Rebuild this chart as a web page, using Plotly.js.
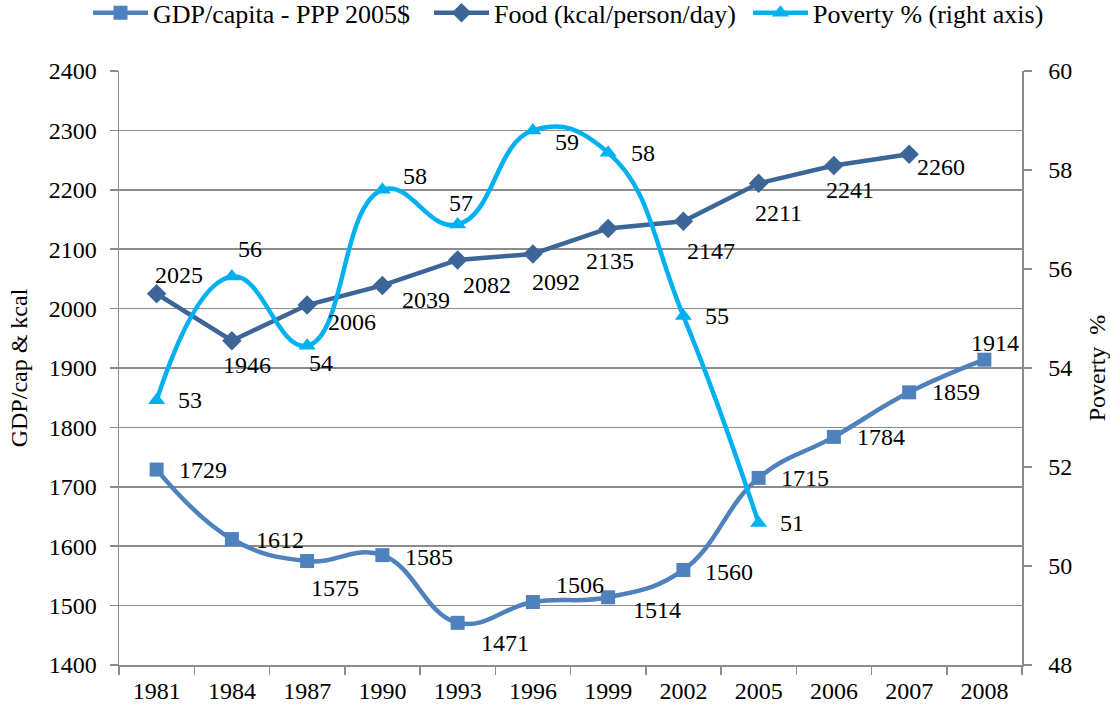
<!DOCTYPE html>
<html>
<head>
<meta charset="utf-8">
<script src="https://cdn.plot.ly/plotly-3.0.1.min.js"></script>
<style>html,body{margin:0;padding:0;background:#fff;}#chart{width:1110px;height:710px;}#err{position:absolute;left:300px;top:300px;color:red;font-size:14px;}</style>
</head>
<body>
<div id="chart"></div>
<div id="err"></div>
<script>
// ---- data ----
const years = ["1981","1984","1987","1990","1993","1996","1999","2002","2005","2006","2007","2008"];
const gdpYears = years;
const gdpValues = [1729, 1612, 1575, 1585, 1471, 1506, 1514, 1560, 1715, 1784, 1859, 1914];
const foodYears = years.slice(0, 11);
const foodValues = [2025, 1946, 2006, 2039, 2082, 2092, 2135, 2147, 2211, 2241, 2260];
const povertyYears = years.slice(0, 9);
const povertyValues = [53.35, 55.85, 54.45, 57.6, 56.9, 58.8, 58.35, 55.05, 50.87];
const leftTicks = [1400,1500,1600,1700,1800,1900,2000,2100,2200,2300,2400];
const rightTicks = [48,50,52,54,56,58,60];
const seriesNames = ["GDP/capita - PPP 2005$", "Food (kcal/person/day)", "Poverty % (right axis)"];

// ---- label offsets (style: pixel shifts, dx right / dy down) ----
const gdpLabelShift = [[46,0],[48,1],[28,27],[47,2],[47,20],[47,-17],[49,13],[46,2],[46,0],[47,0],[47,0],[11,-17]];
const foodLabelShift = [[22,-19],[15,24],[45,17],[44,15],[29,25],[23,28],[2,33],[28,30],[20,30],[16,25],[32,13]];
const povLabelShift = [[33,0],[18,-27],[14,17],[33,-14],[3,-21],[34,12],[35,0],[34,0],[33,0]];

const FONT = "Liberation Serif, Times New Roman, serif";
const FS = 24;
const GDP_COLOR = "#4F81BD";
const FOOD_COLOR = "#3C6698";
const POV_COLOR = "#00B0F0";
const GRID = "#8C8C8C";

const traces = [
  {x: gdpYears, y: gdpValues, name: seriesNames[0], legend: "legend", type: "scatter", mode: "lines+markers",
   line: {color: GDP_COLOR, width: 4.5, shape: "spline", smoothing: 1.2},
   marker: {symbol: "square", size: 14, color: GDP_COLOR}, yaxis: "y", cliponaxis: false},
  {x: foodYears, y: foodValues, name: seriesNames[1], legend: "legend2", type: "scatter", mode: "lines+markers",
   line: {color: FOOD_COLOR, width: 4.5},
   marker: {symbol: "diamond", size: 15, color: FOOD_COLOR}, yaxis: "y", cliponaxis: false},
  {x: povertyYears, y: povertyValues, name: seriesNames[2], legend: "legend3", type: "scatter", mode: "lines+markers",
   line: {color: POV_COLOR, width: 4.5, shape: "spline", smoothing: 1.3},
   marker: {symbol: "triangle-up", size: 15, color: POV_COLOR}, yaxis: "y2", cliponaxis: false}
];

const annotations = [];
function addLabels(xs, ys, shifts, yref, fmt) {
  for (let i = 0; i < ys.length; i++) {
    annotations.push({
      x: years.indexOf(xs[i]), y: ys[i], xref: "x", yref: yref, text: fmt(ys[i]), showarrow: false,
      xanchor: "center", yanchor: "middle", xshift: shifts[i][0], yshift: -shifts[i][1],
      font: {family: FONT, size: FS, color: "#000000"}
    });
  }
}
addLabels(gdpYears, gdpValues, gdpLabelShift, "y", v => String(v));
addLabels(foodYears, foodValues, foodLabelShift, "y", v => String(v));
addLabels(povertyYears, povertyValues, povLabelShift, "y2", v => String(Math.round(v)));

const tickFont = {family: FONT, size: FS, color: "#000000"};
function legendAt(xpx) {
  return {orientation: "h", xref: "container", x: xpx / 1110, xanchor: "left",
          yref: "container", y: 0.982, yanchor: "middle",
          font: {family: FONT, size: 26, color: "#000000"}, itemwidth: 55,
          bgcolor: "rgba(0,0,0,0)"};
}
const layout = {
  width: 1110, height: 710,
  margin: {l: 119, r: 88, t: 71, b: 45},
  paper_bgcolor: "#ffffff", plot_bgcolor: "#ffffff",
  font: {family: FONT, size: FS, color: "#000000"},
  showlegend: true,
  legend: legendAt(88),
  legend2: legendAt(429),
  legend3: legendAt(748),
  xaxis: {type: "category", categoryorder: "array", categoryarray: years, range: [-0.5, 11.5],
          showline: true, linecolor: GRID, linewidth: 1.5, showgrid: false, zeroline: false,
          ticks: "outside", tickson: "boundaries", ticklen: 8, tickcolor: GRID, tickwidth: 1.5,
          tickfont: tickFont, ticklabelstandoff: 4, fixedrange: true},
  yaxis: {range: [1400, 2400], tickvals: leftTicks, ticktext: leftTicks.map(String),
          showline: true, linecolor: GRID, linewidth: 1.5, showgrid: true, gridcolor: GRID, gridwidth: 1.5,
          zeroline: false, ticks: "outside", ticklen: 8, tickcolor: GRID, tickwidth: 1.5,
          tickfont: tickFont, ticklabelstandoff: 8,
          title: {text: "GDP/cap & kcal", font: tickFont, standoff: 14}},
  yaxis2: {range: [48, 60], tickvals: rightTicks, ticktext: rightTicks.map(String), overlaying: "y", side: "right",
           showline: true, linecolor: GRID, linewidth: 1.5, showgrid: false, zeroline: false,
           ticks: "outside", ticklen: 8, tickcolor: GRID, tickwidth: 1.5,
           tickfont: tickFont, ticklabelstandoff: 12,
           title: {text: "Poverty  %", font: tickFont, standoff: 19}},
  annotations: annotations
};

try {
  Plotly.newPlot("chart", traces, layout, {staticPlot: true, displayModeBar: false})
    .catch(e => { document.getElementById("err").textContent = "ERR " + e; });
} catch (e) {
  document.getElementById("err").textContent = "ERR " + e;
}
</script>
</body>
</html>
